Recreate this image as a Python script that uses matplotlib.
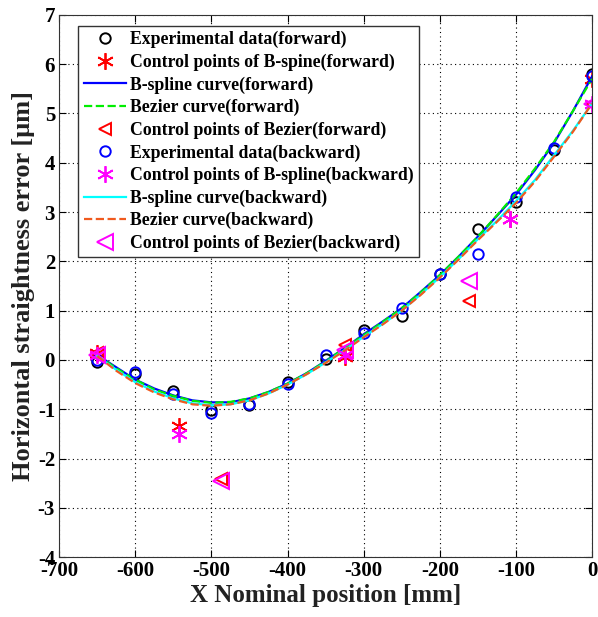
import matplotlib
matplotlib.use('Agg')
import matplotlib.pyplot as plt
import numpy as np

plt.rcParams['font.family'] = ['Liberation Serif', 'DejaVu Serif']
plt.rcParams['font.weight'] = 'bold'
plt.rcParams['axes.unicode_minus'] = False

# experimental data
x_exp = [-650, -600, -550, -500, -450, -400, -350, -300, -250, -200, -150, -100, -50, 0]
y_exp_fwd = [-0.05, -0.28, -0.62, -1.02, -0.92, -0.45, 0.02, 0.6, 0.9, 1.75, 2.65, 3.2, 4.25, 5.8]
y_exp_bwd = [0.0, -0.25, -0.7, -1.08, -0.9, -0.48, 0.1, 0.55, 1.05, 1.75, 2.15, 3.3, 4.3, 5.75]

# control points of B-spline
x_bs_ctrl = [-650, -543, -325, -108, 0]
y_bs_ctrl_fwd = [0.15, -1.35, 0.05, 2.85, 5.7]
y_bs_ctrl_bwd = [0.1, -1.5, 0.1, 2.85, 5.2]

# control points of Bezier
x_bz_ctrl = [-650, -487, -325, -162, 0]
y_bz_ctrl_fwd = [0.15, -2.42, 0.3, 1.2, 5.2]
y_bz_ctrl_bwd = [0.1, -2.45, 0.2, 1.6, 5.2]

# fitted curves
x_curve = [-650, -625, -600, -575, -550, -525, -500, -475, -450, -425, -400, -375, -350,
           -325, -300, -275, -250, -225, -200, -175, -150, -125, -100, -75, -50, -25, 0]
y_bs_fwd = [0.1, -0.15, -0.4, -0.58, -0.72, -0.82, -0.86, -0.86, -0.78, -0.65, -0.48, -0.27, -0.02,
            0.24, 0.52, 0.78, 1.05, 1.38, 1.72, 2.1, 2.5, 2.92, 3.35, 3.85, 4.4, 5.05, 5.75]
y_bz_fwd = [0.1, -0.17, -0.4, -0.6, -0.73, -0.83, -0.87, -0.85, -0.78, -0.65, -0.48, -0.27, -0.03,
            0.24, 0.5, 0.77, 1.05, 1.37, 1.72, 2.1, 2.5, 2.93, 3.38, 3.88, 4.42, 5.05, 5.7]
y_bs_bwd = [0.08, -0.2, -0.45, -0.64, -0.78, -0.88, -0.92, -0.9, -0.82, -0.68, -0.5, -0.29, -0.05,
            0.2, 0.47, 0.73, 1.0, 1.33, 1.68, 2.05, 2.45, 2.82, 3.22, 3.65, 4.15, 4.65, 5.2]
y_bz_bwd = [0.08, -0.22, -0.47, -0.66, -0.8, -0.9, -0.93, -0.9, -0.82, -0.68, -0.5, -0.29, -0.06,
            0.19, 0.46, 0.72, 1.0, 1.32, 1.67, 2.04, 2.43, 2.8, 3.18, 3.62, 4.12, 4.63, 5.2]

fig = plt.figure(figsize=(5.98, 6.17), dpi=100)
ax = fig.add_axes([0.099, 0.097, 0.891, 0.879])

star = (6, 2, 0)
ax.plot(x_exp, y_exp_fwd, 'o', mfc='none', mec='black', ms=7.5, mew=1.4,
        label='Experimental data(forward)')
ax.plot(x_bs_ctrl, y_bs_ctrl_fwd, ls='none', marker=star, color='red', ms=12, mew=1.3,
        label='Control points of B-spine(forward)')
ax.plot(x_curve, y_bs_fwd, '-', color='blue', lw=1.6, label='B-spline curve(forward)')
ax.plot(x_curve, y_bz_fwd, '--', color='#00ee00', lw=1.6, label='Bezier curve(forward)')
ax.plot(x_bz_ctrl, y_bz_ctrl_fwd, '<', mfc='none', mec='red', ms=8, mew=1.4,
        label='Control points of Bezier(forward)')
ax.plot(x_exp, y_exp_bwd, 'o', mfc='none', mec='blue', ms=7.5, mew=1.4,
        label='Experimental data(backward)')
ax.plot(x_bs_ctrl, y_bs_ctrl_bwd, ls='none', marker=star, color='magenta', ms=12, mew=1.3,
        label='Control points of B-spline(backward)')
ax.plot(x_curve, y_bs_bwd, '-', color='cyan', lw=1.6, label='B-spline curve(backward)')
ax.plot(x_curve, y_bz_bwd, '--', color='#f05a1e', lw=1.6, label='Bezier curve(backward)')
ax.plot(x_bz_ctrl, y_bz_ctrl_bwd, '<', mfc='none', mec='magenta', ms=12, mew=1.4,
        label='Control points of Bezier(backward)')

ax.set_xlim(-700, 0)
ax.set_ylim(-4, 7)
ax.set_xticks(np.arange(-700, 1, 100))
ax.set_yticks(np.arange(-4, 8, 1))
ax.grid(True, linestyle=(0, (1, 3)), color='black', lw=0.8)
ax.tick_params(direction='in', top=True, right=True, labelsize=15, length=5, pad=3)
for lab in ax.get_xticklabels() + ax.get_yticklabels():
    lab.set_fontweight('bold')
for s in ax.spines.values():
    s.set_color('#333333')

ax.set_xlabel('X Nominal position [mm]', fontsize=18, fontweight='bold', color='#222222',
              labelpad=2)
ax.set_ylabel('Horizontal straightness error [\u03bcm]', fontsize=19, fontweight='bold',
              color='#222222', labelpad=2)

leg = ax.legend(loc='upper left', bbox_to_anchor=(0.036, 0.98),
                prop={'weight': 'bold', 'size': 12.8}, fancybox=False, framealpha=1,
                edgecolor='#333333', borderpad=0.3, labelspacing=0.3,
                handlelength=2.4, handletextpad=0.2, borderaxespad=0)
leg.get_frame().set_linewidth(1.0)

fig.savefig('out.png', dpi=100)
